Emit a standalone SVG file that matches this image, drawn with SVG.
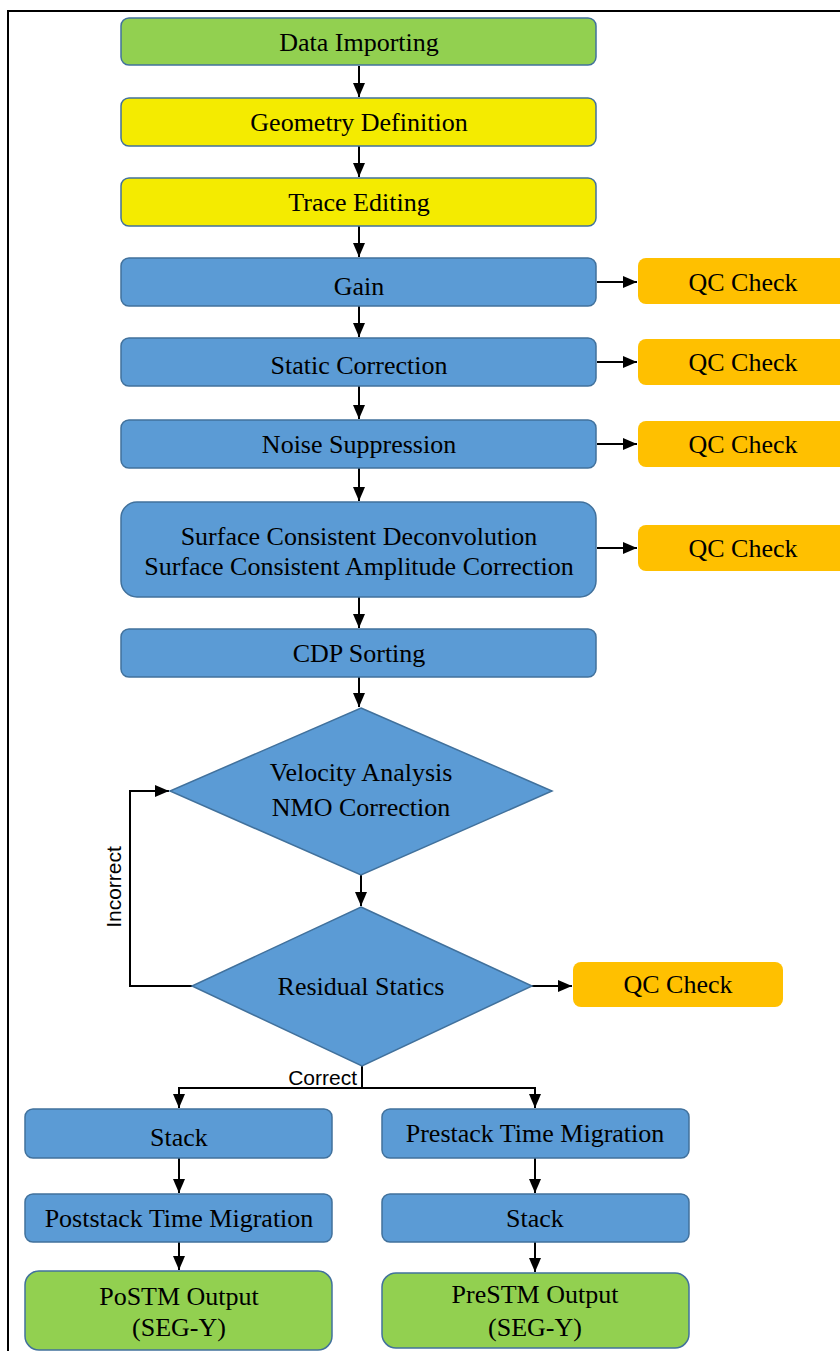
<svg xmlns="http://www.w3.org/2000/svg" width="840" height="1351" viewBox="0 0 840 1351">
<style>
.box{stroke:#41719C;stroke-width:1.5}
.g{fill:#92D050}.y{fill:#F4EB00}.b{fill:#5B9BD5}.o{fill:#FFC000}
.t{font-family:"Liberation Serif","Times New Roman",serif;font-size:26px;fill:#000;text-anchor:middle}
.s{font-family:"Liberation Sans",Arial,sans-serif;font-size:21px;fill:#000}
.c{stroke:#000;stroke-width:2;fill:none}
</style>
<defs>
<marker id="ah" markerWidth="14" markerHeight="12" refX="14" refY="6" orient="auto" markerUnits="userSpaceOnUse">
<path d="M0,0 L14,6 L0,12 Z" fill="#000"/>
</marker>
</defs>
<rect width="840" height="1351" fill="#fff"/>
<path d="M8,1351 V11 H840" stroke="#000" stroke-width="2" fill="none"/>

<g id="connectors">
<line class="c" x1="359" y1="66" x2="359" y2="97" marker-end="url(#ah)"/>
<line class="c" x1="359" y1="146" x2="359" y2="177" marker-end="url(#ah)"/>
<line class="c" x1="359" y1="226" x2="359" y2="257" marker-end="url(#ah)"/>
<line class="c" x1="359" y1="306" x2="359" y2="337" marker-end="url(#ah)"/>
<line class="c" x1="359" y1="386" x2="359" y2="419" marker-end="url(#ah)"/>
<line class="c" x1="359" y1="468" x2="359" y2="501" marker-end="url(#ah)"/>
<line class="c" x1="359" y1="597" x2="359" y2="628" marker-end="url(#ah)"/>
<line class="c" x1="359" y1="677" x2="359" y2="707" marker-end="url(#ah)"/>
<line class="c" x1="361" y1="875" x2="361" y2="906" marker-end="url(#ah)"/>
<line class="c" x1="597" y1="282" x2="637" y2="282" marker-end="url(#ah)"/>
<line class="c" x1="597" y1="362" x2="637" y2="362" marker-end="url(#ah)"/>
<line class="c" x1="597" y1="444" x2="637" y2="444" marker-end="url(#ah)"/>
<line class="c" x1="597" y1="548" x2="637" y2="548" marker-end="url(#ah)"/>
<line class="c" x1="532" y1="986" x2="572" y2="986" marker-end="url(#ah)"/>
<polyline class="c" points="192,986 130,986 130,791 169,791" marker-end="url(#ah)"/>
<line class="c" x1="362" y1="1066" x2="362" y2="1088"/>
<polyline class="c" points="179,1088 535,1088"/>
<line class="c" x1="179" y1="1087" x2="179" y2="1108" marker-end="url(#ah)"/>
<line class="c" x1="535" y1="1087" x2="535" y2="1108" marker-end="url(#ah)"/>
<line class="c" x1="179" y1="1158" x2="179" y2="1193" marker-end="url(#ah)"/>
<line class="c" x1="179" y1="1242" x2="179" y2="1270" marker-end="url(#ah)"/>
<line class="c" x1="535" y1="1158" x2="535" y2="1193" marker-end="url(#ah)"/>
<line class="c" x1="535" y1="1242" x2="535" y2="1272" marker-end="url(#ah)"/>
<text class="s" transform="translate(121,887) rotate(-90)" text-anchor="middle">Incorrect</text>
<text class="s" x="357" y="1085" text-anchor="end">Correct</text>
</g>

<g id="n1"><rect class="box g" x="121" y="18" width="475" height="47" rx="8"/><text class="t" x="359" y="51">Data Importing</text></g>
<g id="n2"><rect class="box y" x="121" y="98" width="475" height="48" rx="8"/><text class="t" x="359" y="131">Geometry Definition</text></g>
<g id="n3"><rect class="box y" x="121" y="178" width="475" height="48" rx="8"/><text class="t" x="359" y="211">Trace Editing</text></g>
<g id="n4"><rect class="box b" x="121" y="258" width="475" height="48" rx="8"/><text class="t" x="359" y="295">Gain</text></g>
<g id="n5"><rect class="box b" x="121" y="338" width="475" height="48" rx="8"/><text class="t" x="359" y="374">Static Correction</text></g>
<g id="n6"><rect class="box b" x="121" y="420" width="475" height="48" rx="8"/><text class="t" x="359" y="453">Noise Suppression</text></g>
<g id="n7"><rect class="box b" x="121" y="502" width="475" height="95" rx="16"/><text class="t" x="359" y="545">Surface Consistent Deconvolution</text><text class="t" x="359" y="575">Surface Consistent Amplitude Correction</text></g>
<g id="n8"><rect class="box b" x="121" y="629" width="475" height="48" rx="8"/><text class="t" x="359" y="662">CDP Sorting</text></g>
<g id="n9"><polygon class="box b" points="361,708 552,791 361,875 170,791"/><text class="t" x="361" y="781">Velocity Analysis</text><text class="t" x="361" y="816">NMO Correction</text></g>
<g id="n10"><polygon class="box b" points="361,907 532,986 362,1066 192,986"/><text class="t" x="361" y="995">Residual Statics</text></g>
<g id="q1"><rect class="o" x="638" y="258" width="215" height="46" rx="8"/><text class="t" x="743" y="291">QC Check</text></g>
<g id="q2"><rect class="o" x="638" y="339" width="215" height="46" rx="8"/><text class="t" x="743" y="371">QC Check</text></g>
<g id="q3"><rect class="o" x="638" y="421" width="215" height="46" rx="8"/><text class="t" x="743" y="453">QC Check</text></g>
<g id="q4"><rect class="o" x="638" y="525" width="215" height="46" rx="8"/><text class="t" x="743" y="557">QC Check</text></g>
<g id="q5"><rect class="o" x="573" y="962" width="210" height="45" rx="8"/><text class="t" x="678" y="993">QC Check</text></g>
<g id="n11"><rect class="box b" x="25" y="1109" width="307" height="49" rx="8"/><text class="t" x="179" y="1146">Stack</text></g>
<g id="n12"><rect class="box b" x="25" y="1194" width="307" height="48" rx="8"/><text class="t" x="179" y="1227">Poststack Time Migration</text></g>
<g id="n13"><rect class="box g" x="25" y="1271" width="307" height="79" rx="14"/><text class="t" x="179" y="1305">PoSTM Output</text><text class="t" x="179" y="1336">(SEG-Y)</text></g>
<g id="n14"><rect class="box b" x="382" y="1109" width="307" height="49" rx="8"/><text class="t" x="535" y="1142">Prestack Time Migration</text></g>
<g id="n15"><rect class="box b" x="382" y="1194" width="307" height="48" rx="8"/><text class="t" x="535" y="1227">Stack</text></g>
<g id="n16"><rect class="box g" x="382" y="1273" width="307" height="75" rx="14"/><text class="t" x="535" y="1303">PreSTM Output</text><text class="t" x="535" y="1336">(SEG-Y)</text></g>
</svg>
